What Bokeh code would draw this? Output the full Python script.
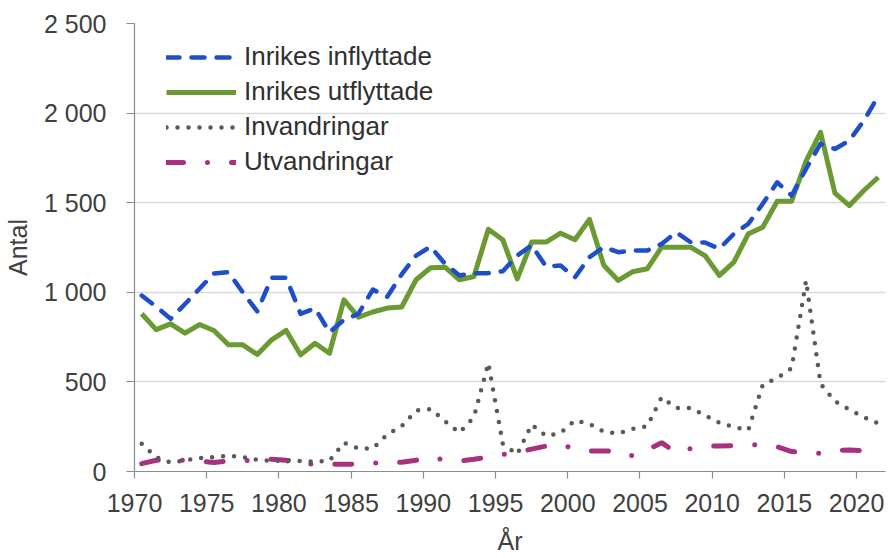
from bokeh.plotting import figure
from bokeh.models import Range1d, FixedTicker, Legend, LegendItem
from bokeh.embed import file_html
from bokeh.resources import INLINE

years = list(range(1970, 2022))

inflyttade = [982, 920, 852, 935, 1020, 1105, 1112, 1000, 894, 1081,
              1081, 880, 911, 777, 846, 880, 1015, 975, 1100, 1205,
              1255, 1159, 1094, 1107, 1107, 1118, 1205, 1262, 1144, 1149,
              1084, 1196, 1252, 1224, 1233, 1233, 1270, 1335, 1280, 1278,
              1243, 1326, 1382, 1494, 1614, 1540, 1689, 1829, 1800, 1847,
              1958, 2095]

utflyttade = [880, 792, 824, 772, 820, 787, 707, 707, 653, 735,
              787, 651, 716, 660, 958, 861, 890, 912, 918, 1070,
              1137, 1140, 1070, 1088, 1352, 1293, 1075, 1280, 1280, 1330,
              1293, 1407, 1149, 1066, 1115, 1131, 1252, 1252, 1252, 1205,
              1094, 1168, 1326, 1363, 1508, 1508, 1732, 1893, 1553, 1484,
              1568, 1642]

invandringar = [155, 80, 50, 63, 74, 81, 87, 81, 65, 59,
                63, 59, 55, 60, 161, 129, 129, 207, 253, 340,
                349, 281, 216, 303, 605, 155, 96, 262, 198, 216,
                285, 265, 222, 212, 238, 253, 414, 355, 355, 314,
                272, 248, 231, 484, 521, 576, 1065, 490, 392, 346,
                303, 268]

utvandringar = [44, 63, 65, 63, 58, 50, 59, 62, 60, 69,
                63, 32, 45, 41, 40, 41, 46, 52, 52, 63,
                81, 63, 59, 68, 81, 95, 108, 125, 142, 152,
                124, 115, 115, 115, 87, 120, 161, 105, 128, 142,
                142, 145, 148, 152, 138, 111, 105, 102, 118, 120,
                115, 120]

series_names = ["Inrikes inflyttade", "Inrikes utflyttade", "Invandringar", "Utvandringar"]

x_tick_years = [1970, 1975, 1980, 1985, 1990, 1995, 2000, 2005, 2010, 2015, 2020]
y_ticks = [0, 500, 1000, 1500, 2000, 2500]
y_tick_labels = ["0", "500", "1 000", "1 500", "2 000", "2 500"]

FONT = "Liberation Sans"
TXT = "#404040"

p = figure(width=894, height=558,
           x_range=Range1d(1969.5, 2021.5), y_range=Range1d(0, 2500),
           output_backend="svg", toolbar_location=None,
           min_border_left=133, min_border_right=9,
           min_border_top=23, min_border_bottom=87)
p.outline_line_color = None
p.background_fill_color = "white"
p.border_fill_color = "white"

# category-boundary ticks as in the original (labels belong to the year to the right)
x_tick_pos = [y - 0.5 for y in x_tick_years]
p.xaxis.ticker = FixedTicker(ticks=x_tick_pos)
p.xaxis.major_label_overrides = {pos: str(y) for pos, y in zip(x_tick_pos, x_tick_years)}
p.yaxis.ticker = FixedTicker(ticks=y_ticks)
p.yaxis.major_label_overrides = {v: s for v, s in zip(y_ticks, y_tick_labels)}

for ax in (p.xaxis[0], p.yaxis[0]):
    ax.axis_line_color = "#8c8c8c"
    ax.axis_line_width = 1.2
    ax.major_tick_line_color = "#8c8c8c"
    ax.major_tick_line_width = 1.2
    ax.major_tick_in = 0
    ax.minor_tick_line_color = None
    ax.major_label_text_font = FONT
    ax.major_label_text_font_size = "25px"
    ax.major_label_text_color = TXT
    ax.axis_label_text_font = FONT
    ax.axis_label_text_font_size = "25px"
    ax.axis_label_text_font_style = "normal"
    ax.axis_label_text_color = TXT

p.xaxis.major_tick_out = 7
p.yaxis.major_tick_out = 8
p.xaxis.major_label_standoff = 15
p.yaxis.major_label_standoff = 20
p.xaxis.axis_label = "År"
p.yaxis.axis_label = "Antal"
p.xaxis.axis_label_standoff = 12
p.yaxis.axis_label_standoff = 9

p.xgrid.grid_line_color = None
p.ygrid.grid_line_color = "#d9d9d9"
p.ygrid.grid_line_width = 1.3

r_ut = p.line(years, utvandringar, line_color="#a8307f", line_width=5,
              line_dash="17 24 0 24", line_cap="round")
r_inv = p.line(years, invandringar, line_color="#595959", line_width=4.5,
               line_dash="0 11", line_cap="round")
r_utf = p.line(years, utflyttade, line_color="#6b9a33", line_width=5,
               line_join="round")
r_inf = p.line(years, inflyttade, line_color="#1f4fc8", line_width=4.5,
               line_dash="13 12", line_cap="round", line_join="round")

legend = Legend(items=[
    LegendItem(label=series_names[0], renderers=[r_inf]),
    LegendItem(label=series_names[1], renderers=[r_utf]),
    LegendItem(label=series_names[2], renderers=[r_inv]),
    LegendItem(label=series_names[3], renderers=[r_ut]),
], location=(32, 294))
legend.padding = 0
legend.margin = 0
legend.spacing = 4
legend.glyph_width = 70
legend.glyph_height = 30
legend.label_height = 30
legend.label_standoff = 8
legend.label_text_font = FONT
legend.label_text_font_size = "26px"
legend.label_text_color = "#303030"
legend.border_line_color = None
legend.background_fill_alpha = 0
p.add_layout(legend)

open("out.html", "w").write(file_html(p, INLINE))
